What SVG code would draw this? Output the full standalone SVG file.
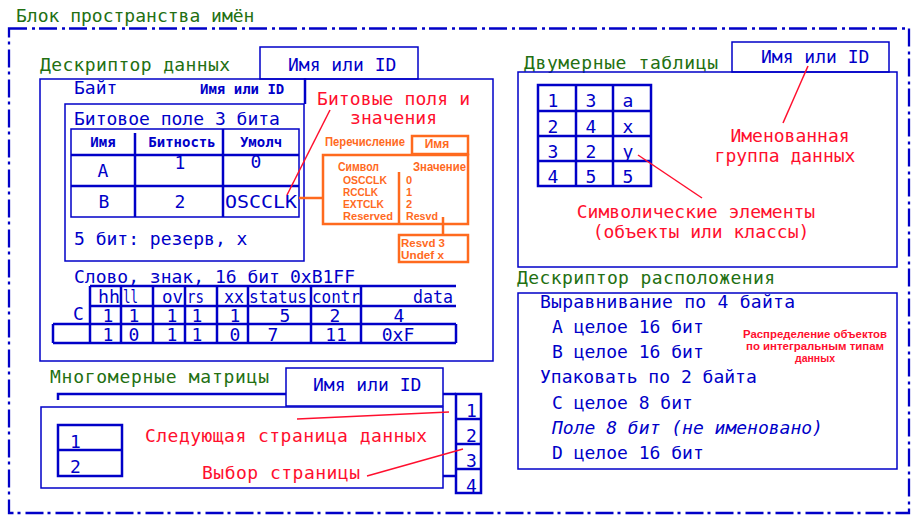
<svg xmlns="http://www.w3.org/2000/svg" width="922" height="525" viewBox="0 0 922 525">
<style>
text{font-family:"DejaVu Sans Mono","Liberation Mono",monospace;font-size:18px}
.b{fill:#0000c8}
.g{fill:#237012}
.r{fill:#ff0f2e}
.o{fill:#ff6a1e;font-family:"Liberation Sans",Arial,sans-serif;font-weight:bold;font-size:12px}
.os{font-size:11px}
.sb{font-size:14px;font-weight:bold}
.sm{font-family:"Liberation Sans",Arial,sans-serif;font-size:11px;font-weight:bold}
.it{font-style:italic}
.ln{stroke:#0000c8;fill:none;stroke-width:1.5}
.tk{stroke:#0000c8;fill:none;stroke-width:2.5}
.ol{stroke:#ff6a1e;fill:none;stroke-width:2.5}
.rl{stroke:#ff0f2e;fill:none;stroke-width:1.5}
.dd{stroke:#0000c8;fill:none;stroke-width:2.3;stroke-dasharray:18 5 3 4}
.c{text-anchor:middle}
</style>
<rect width="922" height="525" fill="#ffffff"/>

<g id="namespace">
<text class="g" x="16" y="22">Блок пространства имён</text>
<rect class="dd" x="9" y="28.5" width="900" height="484.5"/>
</g>

<g id="data-descriptor">
<text class="g" x="40" y="71" textLength="190" lengthAdjust="spacing">Дескриптор данных</text>
<rect class="ln" x="260" y="47" width="158" height="32"/>
<text class="b" x="288" y="71">Имя или ID</text>
<rect class="ln" x="40" y="79" width="453" height="282"/>
<text class="b" x="74" y="94">Байт</text>
<text class="b sb" x="200" y="94">Имя или ID</text>
<line class="tk" x1="305" y1="78" x2="305" y2="104"/>
<rect class="ln" x="65" y="104" width="239" height="157"/>
<text class="b" x="74" y="125">Битовое поле 3 бита</text>
<rect class="ln" x="71" y="129" width="228" height="88"/>
<line class="tk" x1="71" y1="155" x2="299" y2="155"/>
<line class="tk" x1="71" y1="186" x2="299" y2="186"/>
<line class="tk" x1="135" y1="133" x2="135" y2="217"/>
<line class="tk" x1="223" y1="129" x2="223" y2="217"/>
<text class="b sb c" x="103" y="147">Имя</text>
<text class="b sb c" x="182" y="147">Битность</text>
<text class="b sb c" x="261" y="147">Умолч</text>
<text class="b c" x="103" y="177">A</text>
<text class="b c" x="180" y="169">1</text>
<text class="b c" x="256" y="168">0</text>
<text class="b c" x="104" y="208">B</text>
<text class="b c" x="180" y="208">2</text>
<text class="b" x="225" y="208" textLength="72" lengthAdjust="spacingAndGlyphs">OSCCLK</text>
<text class="b" x="74" y="245">5 бит: резерв, x</text>

<text class="b" x="74" y="283">Слово, знак, 16 бит</text>
<text class="b" x="290" y="283">0xB1FF</text>
<line class="tk" x1="90" y1="286" x2="456" y2="286"/>
<line class="tk" x1="90" y1="306" x2="456" y2="306"/>
<line class="tk" x1="53" y1="324" x2="456" y2="324"/>
<line class="tk" x1="53" y1="343" x2="456" y2="343"/>
<line class="tk" x1="53" y1="324" x2="53" y2="343"/>
<line class="tk" x1="456" y1="324" x2="456" y2="343"/>
<line class="tk" x1="90" y1="286" x2="90" y2="343"/>
<line class="tk" x1="121" y1="286" x2="121" y2="343"/>
<line class="tk" x1="153" y1="286" x2="153" y2="343"/>
<line class="tk" x1="185" y1="286" x2="185" y2="343"/>
<line class="tk" x1="217" y1="286" x2="217" y2="343"/>
<line class="tk" x1="248" y1="286" x2="248" y2="343"/>
<line class="tk" x1="311" y1="286" x2="311" y2="343"/>
<line class="tk" x1="361" y1="286" x2="361" y2="343"/>
<text class="b" x="98" y="303" textLength="22" lengthAdjust="spacingAndGlyphs">hh</text>
<text class="b" x="123" y="303" textLength="15" lengthAdjust="spacingAndGlyphs">ll</text>
<text class="b" x="162" y="303" textLength="21" lengthAdjust="spacingAndGlyphs">ov</text>
<text class="b" x="187" y="303" textLength="17" lengthAdjust="spacingAndGlyphs">rs</text>
<text class="b" x="224" y="303" textLength="20" lengthAdjust="spacingAndGlyphs">xx</text>
<text class="b" x="249" y="303" textLength="58" lengthAdjust="spacingAndGlyphs">status</text>
<text class="b" x="312" y="303" textLength="48" lengthAdjust="spacingAndGlyphs">contr</text>
<text class="b" x="413" y="303" textLength="40" lengthAdjust="spacingAndGlyphs">data</text>
<text class="b" x="73" y="320">C</text>
<text class="b c" x="108" y="322">1</text>
<text class="b c" x="134" y="322">1</text>
<text class="b c" x="172" y="322">1</text>
<text class="b c" x="197" y="322">1</text>
<text class="b c" x="235" y="322">1</text>
<text class="b c" x="285" y="322">5</text>
<text class="b c" x="335" y="322">2</text>
<text class="b c" x="399" y="322">4</text>
<text class="b c" x="108" y="341">1</text>
<text class="b c" x="134" y="341">0</text>
<text class="b c" x="172" y="341">1</text>
<text class="b c" x="197" y="341">1</text>
<text class="b c" x="235" y="341">0</text>
<text class="b c" x="273" y="341">7</text>
<text class="b c" x="336" y="341">11</text>
<text class="b c" x="398" y="341">0xF</text>
<text class="r" x="317" y="105" textLength="153" lengthAdjust="spacing">Битовые поля и</text>
<text class="r" x="350" y="124" textLength="87" lengthAdjust="spacing">значения</text>
</g>

<g id="enum">
<text class="o" x="325" y="146" textLength="80" lengthAdjust="spacingAndGlyphs">Перечисление</text>
<rect class="ol" x="412" y="136" width="56" height="18"/>
<text class="o c" x="437" y="148">Имя</text>
<rect class="ol" x="323" y="155" width="145" height="69"/>
<line class="ol" x1="399" y1="172" x2="399" y2="224"/>
<text class="o" x="338" y="171" textLength="41" lengthAdjust="spacingAndGlyphs">Символ</text>
<text class="o" x="413" y="171" textLength="53" lengthAdjust="spacingAndGlyphs">Значение</text>
<text class="o os" x="343" y="184" textLength="44" lengthAdjust="spacingAndGlyphs">OSCCLK</text>
<text class="o os" x="343" y="196" textLength="35" lengthAdjust="spacingAndGlyphs">RCCLK</text>
<text class="o os" x="343" y="208" textLength="41" lengthAdjust="spacingAndGlyphs">EXTCLK</text>
<text class="o os" x="343" y="220" textLength="50" lengthAdjust="spacingAndGlyphs">Reserved</text>
<text class="o os" x="406" y="184">0</text>
<text class="o os" x="406" y="196">1</text>
<text class="o os" x="406" y="208">2</text>
<text class="o os" x="406" y="220" textLength="32" lengthAdjust="spacingAndGlyphs">Resvd</text>
<rect class="ol" x="399" y="235" width="69" height="27"/>
<text class="o os" x="401" y="247" textLength="44" lengthAdjust="spacingAndGlyphs">Resvd 3</text>
<text class="o os" x="401" y="259" textLength="43" lengthAdjust="spacingAndGlyphs">Undef x</text>
</g>

<g id="matrices">
<text class="g" x="50" y="383" textLength="219" lengthAdjust="spacing">Многомерные матрицы</text>
<rect class="ln" x="286" y="368" width="157" height="38"/>
<text class="b" x="313" y="391">Имя или ID</text>
<rect class="ln" x="41" y="407" width="402" height="81"/>
<rect class="tk" x="58" y="425" width="64" height="51"/>
<line class="tk" x1="58" y1="450" x2="122" y2="450"/>
<text class="b" x="70" y="448">1</text>
<text class="b" x="70" y="473">2</text>
<rect class="tk" x="456" y="394" width="25" height="99"/>
<line class="tk" x1="456" y1="419" x2="481" y2="419"/>
<line class="tk" x1="456" y1="444" x2="481" y2="444"/>
<line class="tk" x1="456" y1="469" x2="481" y2="469"/>
<text class="b" x="466" y="417">1</text>
<text class="b" x="466" y="442">2</text>
<text class="b" x="466" y="467">3</text>
<text class="b" x="466" y="492">4</text>
<text class="r" x="145" y="442" textLength="282" lengthAdjust="spacing">Следующая страница данных</text>
<text class="r" x="202" y="479" textLength="158" lengthAdjust="spacing">Выбор страницы</text>
</g>

<g id="tables2d">
<text class="g" x="524" y="69" textLength="194" lengthAdjust="spacing">Двумерные таблицы</text>
<rect class="ln" x="732" y="42" width="157" height="30"/>
<text class="b" x="761" y="63">Имя или ID</text>
<rect class="ln" x="518" y="72" width="379" height="195"/>
<rect class="tk" x="538" y="85" width="113" height="101"/>
<line class="tk" x1="538" y1="111" x2="651" y2="111"/>
<line class="tk" x1="538" y1="136" x2="651" y2="136"/>
<line class="tk" x1="538" y1="161" x2="651" y2="161"/>
<line class="tk" x1="576" y1="85" x2="576" y2="186"/>
<line class="tk" x1="613" y1="85" x2="613" y2="186"/>
<text class="b c" x="553" y="107">1</text>
<text class="b c" x="591" y="107">3</text>
<text class="b c" x="628" y="107">a</text>
<text class="b c" x="553" y="133">2</text>
<text class="b c" x="591" y="133">4</text>
<text class="b c" x="628" y="133">x</text>
<text class="b c" x="553" y="158">3</text>
<text class="b c" x="591" y="158">2</text>
<text class="b c" x="628" y="158">y</text>
<text class="b c" x="553" y="183">4</text>
<text class="b c" x="591" y="183">5</text>
<text class="b c" x="628" y="183">5</text>
<text class="r c" x="790" y="142">Именованная</text>
<text class="r c" x="785" y="162">группа данных</text>
<text class="r c" x="696" y="218">Символические элементы</text>
<text class="r c" x="701" y="238">(объекты или классы)</text>
</g>

<g id="layout-descriptor">
<text class="g" x="517" y="284" textLength="258" lengthAdjust="spacing">Дескриптор расположения</text>
<rect class="ln" x="518" y="293" width="379" height="176"/>
<text class="b" x="540" y="308" textLength="255" lengthAdjust="spacing">Выравнивание по 4 байта</text>
<text class="b" x="552" y="333">A целое 16 бит</text>
<text class="b" x="552" y="358">B целое 16 бит</text>
<text class="b" x="540" y="383">Упаковать по 2 байта</text>
<text class="b" x="552" y="409">C целое 8 бит</text>
<text class="b it" x="552" y="434">Поле 8 бит (не именовано)</text>
<text class="b" x="552" y="459">D целое 16 бит</text>
<text class="r sm c" x="815" y="338" textLength="144" lengthAdjust="spacingAndGlyphs">Распределение объектов</text>
<text class="r sm c" x="815" y="350" textLength="138" lengthAdjust="spacingAndGlyphs">по интегральным типам</text>
<text class="r sm c" x="815" y="362" textLength="40" lengthAdjust="spacingAndGlyphs">данных</text>
</g>

<g id="connectors">
<line class="rl" x1="330" y1="110" x2="287" y2="195"/>
<line class="ol" x1="299" y1="198" x2="323" y2="198"/>
<line class="ol" x1="443" y1="217" x2="443" y2="235"/>
<polyline class="tk" points="58,400 58,394 286,394"/>
<line class="tk" x1="443" y1="394" x2="456" y2="394"/>
<line class="tk" x1="443" y1="476" x2="456" y2="476"/>
<line class="rl" x1="297" y1="419" x2="449" y2="412"/>
<line class="rl" x1="367" y1="476" x2="463" y2="449"/>
<line class="rl" x1="808" y1="66" x2="783" y2="123"/>
<line class="rl" x1="638" y1="155" x2="702" y2="198"/>
</g>
</svg>
